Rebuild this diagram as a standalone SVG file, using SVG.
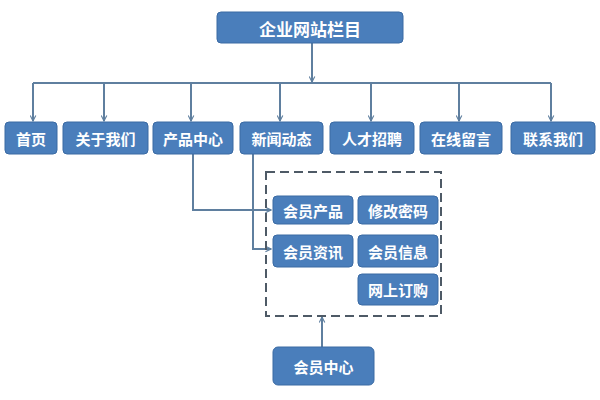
<svg xmlns="http://www.w3.org/2000/svg" width="600" height="400" viewBox="0 0 600 400">
<style>
.box{fill:#4a7ebb;stroke:#3a6aa3;stroke-width:1}
.t{fill:#ffffff;font-family:"Noto Sans CJK SC","Noto Sans",sans-serif;font-size:15px;font-weight:bold;text-anchor:middle;dominant-baseline:central}
.c{fill:none;stroke:#5f7f9f;stroke-width:2}
</style>
<defs>
<marker id="a" viewBox="0 0 10 10" refX="9" refY="5" markerWidth="7" markerHeight="7" orient="auto" markerUnits="userSpaceOnUse">
<path d="M1,1 L9,5 L1,9" fill="none" stroke="#5f7f9f" stroke-width="1.6"/>
</marker>
</defs>
<rect width="600" height="400" fill="#ffffff"/>
<g id="connectors">
<line class="c" x1="312" y1="43" x2="312" y2="82" marker-end="url(#a)"/>
<line class="c" x1="33" y1="83" x2="551" y2="83"/>
<line class="c" x1="33" y1="83" x2="33" y2="121" marker-end="url(#a)"/>
<line class="c" x1="104" y1="83" x2="104" y2="121" marker-end="url(#a)"/>
<line class="c" x1="191" y1="83" x2="191" y2="121" marker-end="url(#a)"/>
<line class="c" x1="280" y1="83" x2="280" y2="121" marker-end="url(#a)"/>
<line class="c" x1="371" y1="83" x2="371" y2="121" marker-end="url(#a)"/>
<line class="c" x1="459" y1="83" x2="459" y2="121" marker-end="url(#a)"/>
<line class="c" x1="551" y1="83" x2="551" y2="121" marker-end="url(#a)"/>
<polyline class="c" points="193,154 193,210 271,210" marker-end="url(#a)"/>
<polyline class="c" points="253,154 253,249 271,249" marker-end="url(#a)"/>
<line class="c" x1="322" y1="347" x2="322" y2="317" marker-end="url(#a)"/>
</g>
<rect id="member-area" x="266" y="172" width="175" height="144" fill="none" stroke="#4e5a66" stroke-width="2" stroke-dasharray="9,5"/>
<g id="root"><rect class="box" x="217" y="12" width="186" height="31" rx="4"/><text class="t" x="310" y="28" style="font-size:17px">企业网站栏目</text></g>
<g id="n1"><rect class="box" x="5" y="122" width="52" height="32" rx="4"/><text class="t" x="31" y="138">首页</text></g>
<g id="n2"><rect class="box" x="63" y="122" width="85" height="32" rx="4"/><text class="t" x="105.5" y="138">关于我们</text></g>
<g id="n3"><rect class="box" x="153" y="122" width="80" height="32" rx="4"/><text class="t" x="193" y="138">产品中心</text></g>
<g id="n4"><rect class="box" x="240" y="122" width="83" height="32" rx="4"/><text class="t" x="281.5" y="138">新闻动态</text></g>
<g id="n5"><rect class="box" x="330" y="122" width="84" height="32" rx="4"/><text class="t" x="372" y="138">人才招聘</text></g>
<g id="n6"><rect class="box" x="420" y="122" width="82" height="32" rx="4"/><text class="t" x="461" y="138">在线留言</text></g>
<g id="n7"><rect class="box" x="511" y="122" width="84" height="32" rx="4"/><text class="t" x="553" y="138">联系我们</text></g>
<g id="m1"><rect class="box" x="273" y="196" width="80" height="28" rx="4"/><text class="t" x="313" y="210">会员产品</text></g>
<g id="m2"><rect class="box" x="358" y="196" width="80" height="28" rx="4"/><text class="t" x="398" y="210">修改密码</text></g>
<g id="m3"><rect class="box" x="273" y="235" width="80" height="32" rx="4"/><text class="t" x="313" y="251">会员资讯</text></g>
<g id="m4"><rect class="box" x="358" y="235" width="80" height="32" rx="4"/><text class="t" x="398" y="251">会员信息</text></g>
<g id="m5"><rect class="box" x="358" y="274" width="80" height="31" rx="4"/><text class="t" x="398" y="289.5">网上订购</text></g>
<g id="center"><rect class="box" x="273" y="347" width="101" height="38" rx="5"/><text class="t" x="323.5" y="366">会员中心</text></g>
</svg>
